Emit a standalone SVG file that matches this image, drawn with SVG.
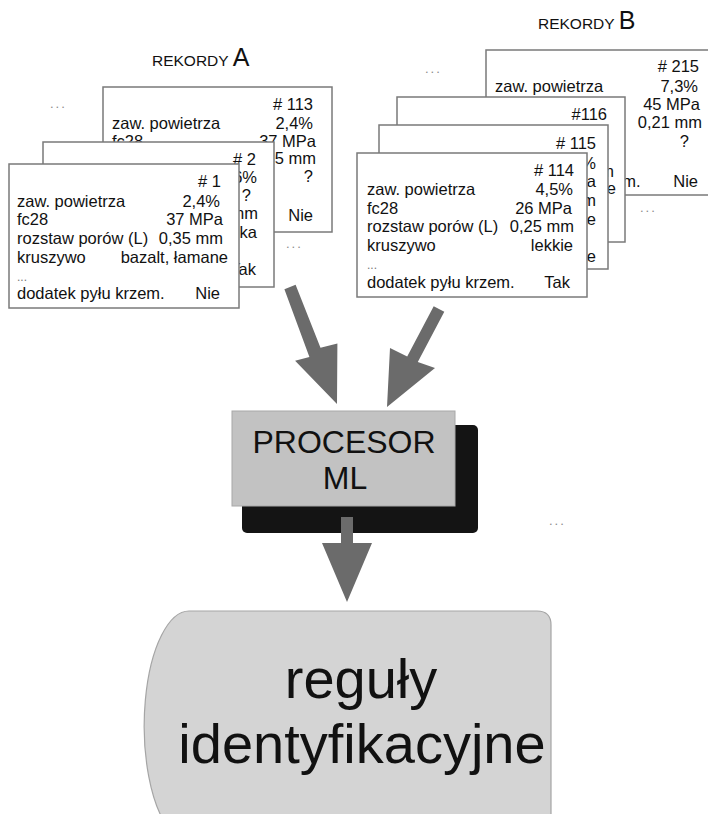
<svg xmlns="http://www.w3.org/2000/svg" width="708" height="814" viewBox="0 0 708 814">
<style>
text{font-family:"Liberation Sans",Arial,sans-serif;fill:#111}
.t{font-size:16.5px}
.e{text-anchor:end}
.card{fill:#fff;stroke:#7a7a7a;stroke-width:1.5}
.dots{font-size:13px;fill:#8a8a8a;letter-spacing:2px}
.sd{font-size:12px;fill:#777}
.arr{fill:#6b6b6b}
.lbl{font-size:15.5px}
.big{font-size:25px}
</style>
<rect width="708" height="814" fill="#fff"/>

<g id="label-a"><text class="lbl" x="152" y="66">REKORDY <tspan class="big">A</tspan></text></g>
<g id="label-b"><text class="lbl" x="538" y="29">REKORDY <tspan class="big">B</tspan></text></g>

<g id="dots">
<text class="dots" x="50" y="108">...</text>
<text class="dots" x="286" y="248">...</text>
<text class="dots" x="425" y="73">...</text>
<text class="dots" x="640" y="212">...</text>
<text class="dots" x="549" y="525">...</text>
</g>

<g id="card-113">
<rect class="card" x="103" y="87" width="229" height="145"/>
<text class="t e" x="313" y="110"># 113</text>
<text class="t" x="112" y="129">zaw. powietrza</text>
<text class="t e" x="313" y="129">2,4%</text>
<text class="t" x="112" y="147">fc28</text>
<text class="t e" x="316" y="147">37 MPa</text>
<text class="t e" x="316" y="164">0,35 mm</text>
<text class="t e" x="313" y="182">?</text>
<text class="t e" x="313" y="221">Nie</text>
</g>

<g id="card-2">
<rect class="card" x="43" y="142" width="231" height="145"/>
<text class="t e" x="256" y="165"># 2</text>
<text class="t e" x="257" y="183">6%</text>
<text class="t e" x="251" y="201">?</text>
<text class="t e" x="258" y="219">mm</text>
<text class="t e" x="257" y="238">lka</text>
<text class="t e" x="256" y="275">Tak</text>
</g>

<g id="card-1">
<rect class="card" x="9" y="164" width="230" height="144"/>
<text class="t e" x="221" y="187"># 1</text>
<text class="t" x="17" y="207">zaw. powietrza</text>
<text class="t e" x="220" y="207">2,4%</text>
<text class="t" x="17" y="225">fc28</text>
<text class="t e" x="223" y="225">37 MPa</text>
<text class="t" x="17" y="244">rozstaw porów (L)</text>
<text class="t e" x="223" y="244">0,35 mm</text>
<text class="t" x="17" y="263">kruszywo</text>
<text class="t e" x="228" y="263">bazalt, łamane</text>
<text class="sd" x="17" y="281">...</text>
<text class="t" x="17" y="299">dodatek pyłu krzem.</text>
<text class="t e" x="220" y="299">Nie</text>
</g>

<g id="card-215">
<rect class="card" x="486" y="50" width="240" height="145"/>
<text class="t e" x="699" y="72"># 215</text>
<text class="t" x="495" y="92">zaw. powietrza</text>
<text class="t e" x="698" y="92">7,3%</text>
<text class="t e" x="700" y="110">45 MPa</text>
<text class="t e" x="702" y="128">0,21 mm</text>
<text class="t e" x="689" y="147">?</text>
<text class="t" x="493" y="187">dodatek pyłu krzem.</text>
<text class="t e" x="698" y="187">Nie</text>
</g>

<g id="card-116">
<rect class="card" x="397" y="97" width="228" height="145"/>
<text class="t e" x="607" y="120">#116</text>
<text class="t e" x="614" y="177">mm</text>
<text class="t e" x="616" y="194">e</text>
</g>

<g id="card-115">
<rect class="card" x="379" y="125" width="229" height="144"/>
<text class="t e" x="596" y="149"># 115</text>
<text class="t e" x="596" y="169">%</text>
<text class="t e" x="596" y="187">MPa</text>
<text class="t e" x="596" y="206">mm</text>
<text class="t e" x="596" y="225">e</text>
<text class="t e" x="596" y="262">Nie</text>
</g>

<g id="card-114">
<rect class="card" x="357" y="153" width="230" height="144"/>
<text class="t e" x="574" y="176"># 114</text>
<text class="t" x="367" y="195">zaw. powietrza</text>
<text class="t e" x="573" y="195">4,5%</text>
<text class="t" x="367" y="214">fc28</text>
<text class="t e" x="572" y="214">26 MPa</text>
<text class="t" x="367" y="232">rozstaw porów (L)</text>
<text class="t e" x="574" y="232">0,25 mm</text>
<text class="t" x="367" y="251">kruszywo</text>
<text class="t e" x="573" y="251">lekkie</text>
<text class="sd" x="367" y="269">...</text>
<text class="t" x="367" y="288">dodatek pyłu krzem.</text>
<text class="t e" x="570" y="288">Tak</text>
</g>

<g id="processor">
<rect x="242" y="425" width="236" height="108" rx="5" fill="#141414"/>
<rect x="232" y="411" width="223" height="95" fill="#c2c2c2" stroke="#a8a8a8" stroke-width="1"/>
<text x="344" y="453" font-size="32" text-anchor="middle">PROCESOR</text>
<text x="345" y="489" font-size="32" text-anchor="middle">ML</text>
</g>

<g id="rules">
<path d="M190,611 L537,611 Q551,611 551,625 L551,830 L170,830 A45,115 0 0 1 190,611 Z" fill="#d4d4d4" stroke="#a5a5a5" stroke-width="1.2"/>
<text x="361" y="698" font-size="56" text-anchor="middle">reguły</text>
<text x="362" y="763" font-size="56" text-anchor="middle">identyfikacyjne</text>
</g>

<g id="connectors">
<polygon class="arr" points="284.4,289.2 295.6,284.8 320.5,347.7 337.4,343.5 337,404 295.1,360.8 309.4,356.9"/>
<polygon class="arr" points="433.7,306.2 444.3,311.8 417.8,362.1 435,368 387,407 390,348 407.2,356.5"/>
<polygon class="arr" points="341,517 353,517 353,543 372,543 347,602 322,543 341,543"/>
</g>
</svg>
